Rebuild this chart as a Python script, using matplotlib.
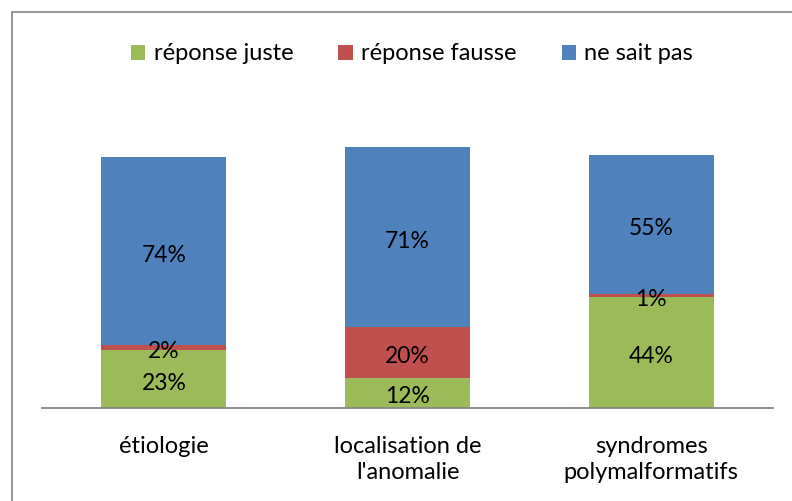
import matplotlib.pyplot as plt
import numpy as np
from matplotlib.patches import Rectangle

# Data
categories = ["étiologie", "localisation de\nl'anomalie", "syndromes\npolymalformatifs"]
series_names = ["réponse juste", "réponse fausse", "ne sait pas"]
juste = [23, 12, 44]
fausse = [2, 20, 1]
ne_sait_pas = [74, 71, 55]
colors = ["#9BBB59", "#C0504D", "#4F81BD"]

plt.rcParams['font.family'] = ['Lato', 'DejaVu Sans']

W, H = 792, 501
fig = plt.figure(figsize=(W / 100, H / 100), dpi=100)
# plot area in pixels: x 42..773, y 104..408
ax = fig.add_axes([42 / W, (H - 408) / H, (773 - 42) / W, (408 - 104) / H])

# chart border
fig.patches.append(Rectangle((12 / W, -0.1), 1.1, (H - 12) / H + 0.1,
                             transform=fig.transFigure, fill=False,
                             edgecolor="#8c8c8c", linewidth=1.3))

x = np.arange(len(categories))
width = 0.513
bottom = np.zeros(len(categories))
for name, vals, col in zip(series_names, [juste, fausse, ne_sait_pas], colors):
    bars = ax.bar(x, vals, width, bottom=bottom, color=col, label=name)
    for xi, b, v in zip(x, bottom, vals):
        ax.annotate(f"{v}%", (xi, b + v / 2), xytext=(0, -3), textcoords="offset points",
                    ha="center", va="center", fontsize=16.5, color="#000000")
    bottom += np.array(vals)

ax.set_xlim(-0.5, 2.5)
ax.set_ylim(0, 120)
ax.set_yticks([])
for s in ["top", "right", "left"]:
    ax.spines[s].set_visible(False)
ax.spines["bottom"].set_color("#878787")
ax.spines["bottom"].set_linewidth(1.3)
ax.set_xticks(x)
ax.set_xticklabels(categories, fontsize=17, linespacing=1.3)
ax.tick_params(axis="x", length=0, pad=20)

fig.legend(loc="center", bbox_to_anchor=(412 / W, (H - 54) / H), ncol=3,
           frameon=False, fontsize=17, handlelength=0.62, handleheight=0.62,
           handletextpad=0.35, columnspacing=1.9)

fig.savefig("out.png", dpi=100)
